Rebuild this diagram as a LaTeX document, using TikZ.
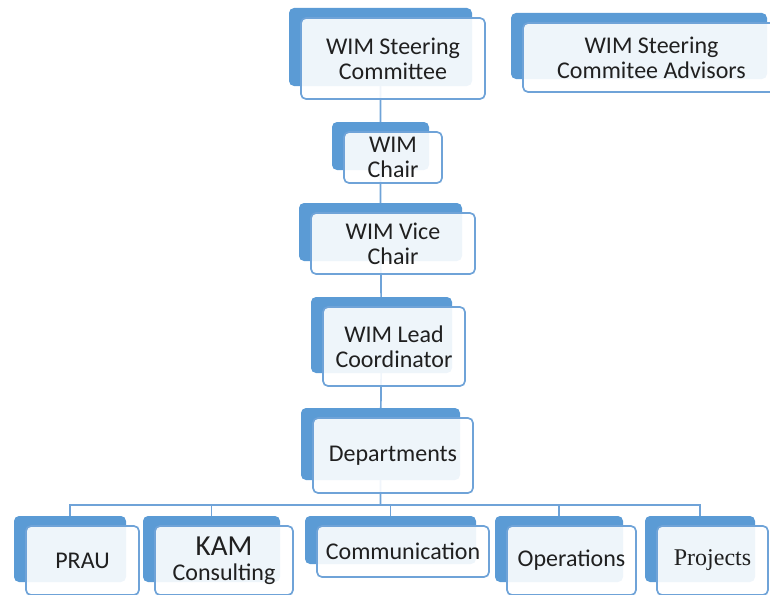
\documentclass[tikz,border=0pt]{standalone}
\usepackage{fontspec}
\setmainfont{Carlito}
\newfontfamily\projfont{Liberation Serif}
\definecolor{backblue}{HTML}{5B9BD5}
\definecolor{edgeblue}{HTML}{6FA3D8}
\definecolor{txt}{HTML}{202020}
\pgfdeclarelayer{bg}\pgfdeclarelayer{mid}\pgfsetlayers{bg,mid,main}
\tikzset{
 front/.style={draw=edgeblue, line width=1.7pt, rounded corners=5pt, fill=white, fill opacity=0.9, text opacity=1, text=txt, align=center, inner sep=0pt, font=\fontsize{24}{25}\selectfont},
 backbox/.style={fill=backblue, rounded corners=5pt, inner sep=0pt},
 link/.style={draw=edgeblue, line width=1.7pt},
}
\newcommand\orgunit[6]{%
  \node[front, minimum width=#4pt, minimum height=#5pt] (#1) at (#2pt,-#3pt) {#6};
  \begin{pgfonlayer}{mid}
  \node[backbox, minimum width={#4pt-1pt}, minimum height={#5pt-3pt}] (#1-b) at ([shift={(-12.5pt,11.5pt)}]#1.center) {};
  \end{pgfonlayer}
}
\begin{document}
\begin{tikzpicture}
\useasboundingbox (0,0) rectangle (770pt,-594pt);
\orgunit{steer}{393}{58.5}{184}{81}{WIM Steering\\Committee}
\orgunit{adv}{651.5}{57.5}{257}{69}{WIM Steering\\Commitee Advisors}
\orgunit{chair}{393}{157.5}{98}{51}{WIM\\Chair}
\orgunit{vice}{393}{243.5}{164}{61}{WIM Vice\\Chair}
\orgunit{lead}{394}{346.5}{142}{79}{WIM Lead\\Coordinator}
\orgunit{dept}{393}{455.5}{160}{75}{Departments}
\orgunit{prau}{82.5}{560.5}{113}{69}{PRAU}
\orgunit{kam}{224}{560.5}{138}{69}{{\fontsize{29}{31}\selectfont KAM}\\Consulting}
\orgunit{comm}{403}{551.5}{172}{51}{Communication}
\orgunit{ops}{571.5}{560.5}{129}{69}{Operations}
\orgunit{proj}{712.5}{560.5}{111}{69}{{\projfont Projects}}
\coordinate (bus) at (381pt,-505pt);
\begin{pgfonlayer}{bg}
\draw[link] (steer-b.center) -- (chair-b.center) -- (vice-b.center) -- (lead-b.center) -- (dept-b.center) -- (dept-b.center |- bus);
\draw[link] (prau-b.center) |- (bus) -| (proj-b.center);
\foreach \n in {kam,comm,ops} \draw[link] (\n-b.center) -- (\n-b.center |- bus);
\end{pgfonlayer}
\end{tikzpicture}
\end{document}
